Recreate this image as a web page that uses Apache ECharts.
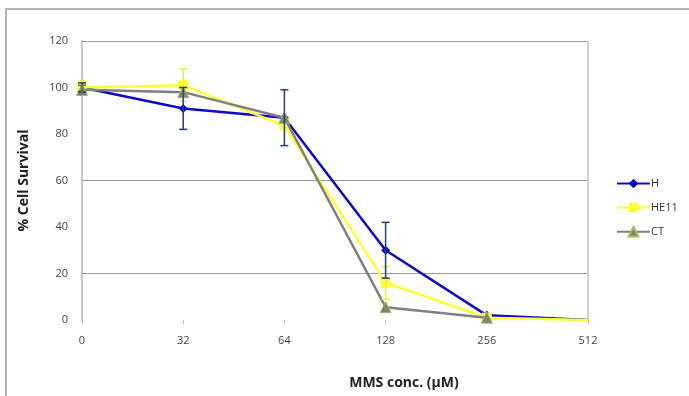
<!DOCTYPE html>
<html><head><meta charset="utf-8">
<script src="https://cdn.jsdelivr.net/npm/echarts@6/dist/echarts.min.js"></script>
<style>html,body{margin:0;padding:0;background:#fff}#c{width:689px;height:396px}</style>
</head><body><div id="c"></div>
<script>
const categories = ['0','32','64','128','256','512'];
const seriesNames = ['H','HE11','CT'];
const H = [100, 91, 87, 30, 2, 0];
const HE11 = [100, 101, 83.5, 16, 1, 0];
const CT = [99, 98, 87, 5.5, 1, null];
const H_err = [2, 9, 12, 12, 0, 0];
const HE11_err = [3, 7, 0, 7, 0, 0];
const CT_err = [2, 0, 0, 0, 0, 0];
const yTicks = [0, 20, 40, 60, 80, 100, 120];
const visibleGrid = [120, 60, 20];

const font = '"Open Sans", "Liberation Sans", sans-serif';
const colors = {H:'#0A0AC8', HE11:'#FFFF33', CT:'#808080'};
const errColors = {H:'#1F3C88', HE11:'#F0F028', CT:'#707070'};

function lineData(vals){
  return vals.map((v,i)=> i === vals.length-1 ? {value:v, symbol:'none'} : v);
}
function errData(vals, errs){
  const out = [];
  vals.forEach((v,i)=>{ if(errs[i]>0 && v!=null) out.push([i, v-errs[i], v+errs[i]]); });
  return out;
}
function errSeries(name, vals, errs){
  return {
    type:'custom', name: name+'_err', silent:true, z:6,
    data: errData(vals, errs),
    renderItem: function(params, api){
      const x = api.value(0);
      const lo = api.coord([x, api.value(1)]);
      const hi = api.coord([x, api.value(2)]);
      const w = 4;
      const style = {stroke: errColors[name], lineWidth: 1.5};
      return {type:'group', children:[
        {type:'line', shape:{x1:lo[0],y1:lo[1],x2:hi[0],y2:hi[1]}, style},
        {type:'line', shape:{x1:lo[0]-w,y1:lo[1],x2:lo[0]+w,y2:lo[1]}, style},
        {type:'line', shape:{x1:hi[0]-w,y1:hi[1],x2:hi[0]+w,y2:hi[1]}, style}
      ]};
    }
  };
}

const chart = echarts.init(document.getElementById('c'), null, {renderer:'canvas'});
chart.setOption({
  animation:false,
  backgroundColor:'#fff',
  grid:{left:82, right:101, top:41, bottom:76, containLabel:false},
  graphic:[
    {type:'rect', shape:{x:6, y:9, width:700, height:400}, style:{fill:'none', stroke:'#9a9a9a', lineWidth:1.5}, z:-10}
  ],
  title:{text:'MMS conc. (µM)', left:399, top:371, textAlign:'center',
    textStyle:{fontFamily:font, fontSize:14, fontWeight:'bold', color:'#222'}},
  legend:{
    orient:'vertical', left:611, top:173, itemWidth:33, itemHeight:12, itemGap:13,
    data: seriesNames,
    textStyle:{fontFamily:font, fontSize:11, color:'#333', padding:[0,0,0,-4]}
  },
  xAxis:{
    type:'category', data:categories, boundaryGap:false,
    axisLine:{show:false},
    axisTick:{show:true, alignWithLabel:true, length:4, lineStyle:{color:'#bbb'}},
    axisLabel:{fontFamily:font, fontSize:11, color:'#444', margin:15},
    splitLine:{show:false}
  },
  yAxis:{
    type:'value', min:0, max:120, interval:20,
    name:'% Cell Survival', nameLocation:'middle', nameGap:51, nameRotate:90,
    nameTextStyle:{fontFamily:font, fontSize:14, fontWeight:'bold', color:'#222'},
    axisLine:{show:true, lineStyle:{color:'#c8c8c8', width:2}},
    axisTick:{show:false},
    axisLabel:{fontFamily:font, fontSize:11, color:'#444', margin:14},
    splitLine:{show:false}
  },
  series:[
    {name:'H', type:'line', data:lineData(H), symbol:'diamond', symbolSize:9, z:3,
      lineStyle:{color:colors.H, width:2.5}, itemStyle:{color:colors.H},
      markLine:{silent:true, symbol:'none', label:{show:false}, z:1,
        lineStyle:{color:'#9a9a9a', type:'solid', width:1},
        data: visibleGrid.map(v=>({yAxis:v})).concat([{xAxis:categories.length-1, lineStyle:{color:'#cfcfcf', width:2}}])}
    },
    {name:'HE11', type:'line', data:lineData(HE11), symbol:'rect', symbolSize:10, z:4,
      lineStyle:{color:colors.HE11, width:2.5}, itemStyle:{color:colors.HE11}},
    {name:'CT', type:'line', data:lineData(CT), symbol:'triangle', symbolSize:11, z:5,
      lineStyle:{color:colors.CT, width:2.5}, itemStyle:{color:'#7F8466', borderColor:'#9BBB59', borderWidth:1}},
    errSeries('HE11', HE11, HE11_err),
    errSeries('H', H, H_err),
    errSeries('CT', CT, CT_err)
  ]
});
</script></body></html>
